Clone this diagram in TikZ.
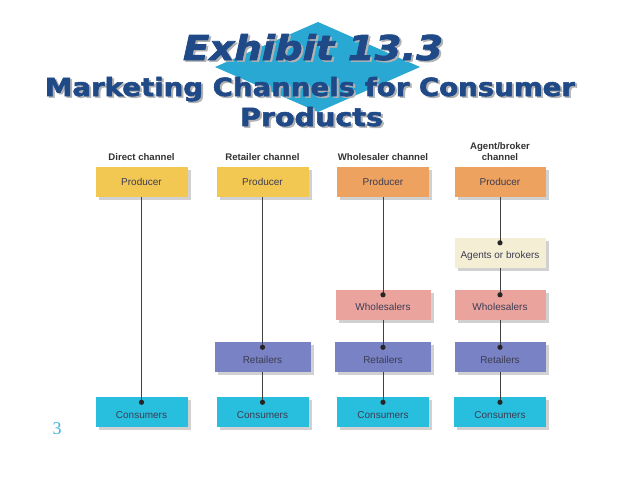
\documentclass[tikz,border=0pt]{standalone}
\usepackage{fontspec}
\newfontfamily\labelfont{Liberation Sans}
\newfontfamily\titlefont[BoldFeatures={FakeBold=2},BoldItalicFeatures={FakeBold=2}]{DejaVu Sans}
\newfontfamily\numfont{Liberation Serif}
\usetikzlibrary{shadows}
\definecolor{prodyellow}{RGB}{243,200,82}
\definecolor{prodorange}{RGB}{238,162,96}
\definecolor{agentbeige}{RGB}{243,238,212}
\definecolor{wholepink}{RGB}{235,163,158}
\definecolor{retblue}{RGB}{120,130,196}
\definecolor{conscyan}{RGB}{40,190,222}
\definecolor{boxtext}{RGB}{60,60,82}
\definecolor{titleblue}{RGB}{31,73,135}
\definecolor{diamondblue}{RGB}{40,168,210}
\definecolor{pagenum}{RGB}{60,180,218}
\newcommand\shadowed[3]{\makebox[0pt][l]{\hspace{2pt}\raisebox{-1.6pt}{\textcolor{black!30}{\resizebox{#1}{#2}{#3}}}}\resizebox{#1}{#2}{#3}}

\begin{document}
\begin{tikzpicture}[x=1pt,y=-1pt,
  box/.style={minimum width=92pt,minimum height=30pt,inner sep=0pt,
    font=\labelfont\fontsize{10}{12}\selectfont,text=boxtext,
    drop shadow={shadow xshift=3pt,shadow yshift=-3pt,fill=black!18,opacity=1}},
  dotbox/.style={box,text height=12pt,text depth=0pt},
  head/.style={font=\labelfont\bfseries\fontsize{9.6}{11}\selectfont,text=black!80,align=center},
  ttl/.style={inner sep=0pt,anchor=base,text=titleblue,font=\titlefont\bfseries},
  link/.style={draw=black!75,line width=0.5pt}]
\useasboundingbox[fill=white] (0,0) rectangle (638,479);

% title
\fill[diamondblue] (318,22) -- (420,67) -- (318,112) -- (215,67) -- cycle;
\node[ttl] (t1) at (313,60) {\shadowed{260pt}{26pt}{\itshape Exhibit 13.3}};
\node[ttl] (t2) at (310,96) {\shadowed{530pt}{19pt}{Marketing Channels for Consumer}};
\node[ttl] (t3) at (311.5,126) {\shadowed{143pt}{19pt}{Products}};

% channel headings
\node[head] (h1) at (141.5,157) {Direct channel};
\node[head] (h2) at (262.5,157) {Retailer channel};
\node[head] (h3) at (383,157) {Wholesaler channel};
\node[head] (h4) at (500,152) {Agent/broker\\channel};

% boxes
\node[box,fill=prodyellow] (p1) at (141.5,182) {Producer};
\node[box,fill=prodyellow] (p2) at (262.5,182) {Producer};
\node[box,fill=prodorange] (p3) at (383,182) {Producer};
\node[box,fill=prodorange,minimum width=91pt] (p4) at (500,182) {Producer};

\node[dotbox,fill=agentbeige,minimum width=91pt] (a4) at (500,252.5) {Agents or brokers};

\node[dotbox,fill=wholepink,minimum width=95pt] (w3) at (383,304.5) {Wholesalers};
\node[dotbox,fill=wholepink,minimum width=91pt] (w4) at (500,304.5) {Wholesalers};

\node[dotbox,fill=retblue,minimum width=96pt] (r2) at (262.5,357) {Retailers};
\node[dotbox,fill=retblue,minimum width=96pt] (r3) at (383,357) {Retailers};
\node[dotbox,fill=retblue,minimum width=91pt] (r4) at (500,357) {Retailers};

\node[dotbox,fill=conscyan] (c1) at (141.5,412) {Consumers};
\node[dotbox,fill=conscyan] (c2) at (262.5,412) {Consumers};
\node[dotbox,fill=conscyan] (c3) at (383,412) {Consumers};
\node[dotbox,fill=conscyan] (c4) at (500,412) {Consumers};

% links
\foreach \a/\b in {p1/c1,p2/r2,r2/c2,p3/w3,w3/r3,r3/c3,p4/a4,a4/w4,w4/r4,r4/c4}{
  \draw[link] (\a.south) -- ([yshift=-5.5pt]\b.north);
  \fill[black!85] ([yshift=-5.5pt]\b.north) circle (2.6pt);
}

\node[text=pagenum,font=\numfont\fontsize{18}{20}\selectfont] (pg) at (57,428.5) {3};
\end{tikzpicture}
\end{document}
